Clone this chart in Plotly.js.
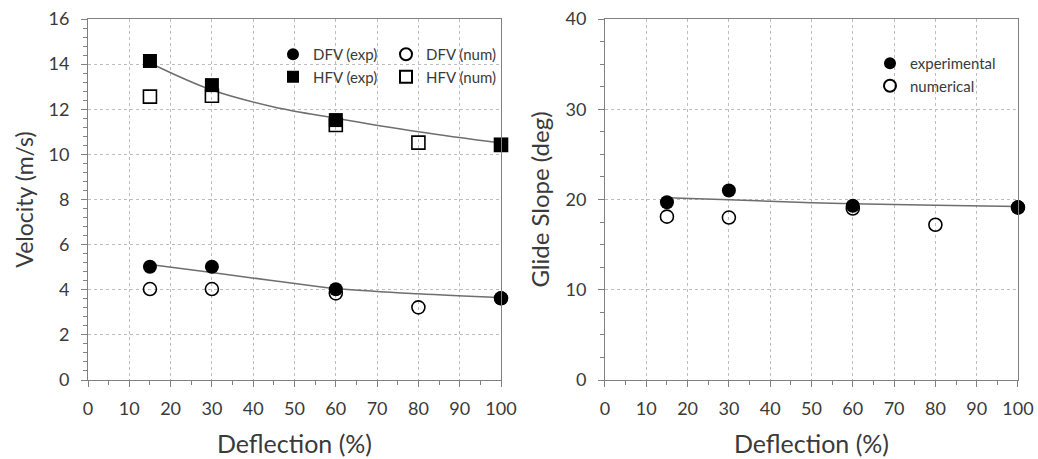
<!DOCTYPE html>
<html>
<head>
<meta charset="utf-8">
<script src="https://cdn.plot.ly/plotly-3.0.1.min.js"></script>
<style>html,body{margin:0;padding:0;background:#fff;}#chart{width:1038px;height:459px;}</style>
</head>
<body>
<div id="chart"></div>
<script>
// ---- data ----
const deflection = [15, 30, 60, 80, 100];
const deflectionExp = [15, 30, 60, 100];

const dfvExp = [5.02, 5.02, 4.02, 3.62];
const dfvNum = [4.03, 4.03, 3.84, 3.22, 3.62];
const hfvExp = [14.14, 13.07, 11.52, 10.42];
const hfvNum = [12.56, 12.6, 11.3, 10.52, 10.42];

const trendX = [15, 30, 45, 60, 80, 100];
const dfvTrend = [5.12, 4.76, 4.4, 4.05, 3.82, 3.65];
const hfvTrend = [14.05, 12.85, 12.1, 11.6, 11.0, 10.5];

const glideExp = [19.7, 21.0, 19.3, 19.16];
const glideNum = [18.1, 18.0, 19.0, 17.2, 19.1];
const glideTrend = [20.2, 19.97, 19.72, 19.53, 19.37, 19.23];

const xTicks = [0, 10, 20, 30, 40, 50, 60, 70, 80, 90, 100];

// ---- styling ----
const FONT = 'Lato, "Open Sans", sans-serif';
const TXT = '#3a3a3a';
const AX = '#808080';
const trendLine = {color: '#6e6e6e', width: 1.5, shape: 'spline'};

const traces = [
  {x: trendX, y: dfvTrend, mode: 'lines', line: trendLine, showlegend: false, hoverinfo: 'skip', xaxis: 'x', yaxis: 'y'},
  {x: trendX, y: hfvTrend, mode: 'lines', line: trendLine, showlegend: false, hoverinfo: 'skip', xaxis: 'x', yaxis: 'y'},
  {x: deflection, y: dfvNum, name: 'DFV (num)', mode: 'markers', legend: 'legend2',
   marker: {symbol: 'circle-open', size: 13, color: '#000', line: {width: 1.6, color: '#000'}}, cliponaxis: false, xaxis: 'x', yaxis: 'y'},
  {x: deflection, y: hfvNum, name: 'HFV (num)', mode: 'markers', legend: 'legend2',
   marker: {symbol: 'square-open', size: 13, color: '#000', line: {width: 1.6, color: '#000'}}, cliponaxis: false, xaxis: 'x', yaxis: 'y'},
  {x: deflectionExp, y: dfvExp, name: 'DFV (exp)', mode: 'markers', legend: 'legend',
   marker: {symbol: 'circle', size: 14, color: '#000'}, cliponaxis: false, xaxis: 'x', yaxis: 'y'},
  {x: deflectionExp, y: hfvExp, name: 'HFV (exp)', mode: 'markers', legend: 'legend',
   marker: {symbol: 'square', size: 14, color: '#000'}, cliponaxis: false, xaxis: 'x', yaxis: 'y'},

  {x: trendX, y: glideTrend, mode: 'lines', line: trendLine, showlegend: false, hoverinfo: 'skip', xaxis: 'x2', yaxis: 'y2'},
  {x: deflection, y: glideNum, name: 'numerical', mode: 'markers', legend: 'legend3', legendrank: 2,
   marker: {symbol: 'circle-open', size: 13, color: '#000', line: {width: 1.6, color: '#000'}}, cliponaxis: false, xaxis: 'x2', yaxis: 'y2'},
  {x: deflectionExp, y: glideExp, name: 'experimental', mode: 'markers', legend: 'legend3', legendrank: 1,
   marker: {symbol: 'circle', size: 14, color: '#000'}, cliponaxis: false, xaxis: 'x2', yaxis: 'y2'}
];

function axis(extra) {
  return Object.assign({
    showline: true, linecolor: AX, linewidth: 1, mirror: true,
    ticks: 'outside', ticklen: 6, tickcolor: AX, tickwidth: 1,
    showgrid: true, gridcolor: '#bdbdbd', griddash: 'dot', gridwidth: 1,
    zeroline: false, fixedrange: true,
    tickfont: {family: FONT, size: 18, color: TXT}
  }, extra);
}

function xAxisCommon() {
  return {
    range: [0, 100], tickmode: 'array', tickvals: xTicks, ticktext: xTicks.map(String),
    minor: {dtick: 5, ticks: 'outside', ticklen: 4, tickcolor: AX, showgrid: false},
    ticklabelstandoff: 6,
    title: {text: 'Deflection (%)', font: {family: FONT, size: 25, color: TXT}, standoff: 17}
  };
}

const legendCommon = {
  xref: 'paper', yref: 'paper', xanchor: 'left', yanchor: 'top',
  bgcolor: 'rgba(0,0,0,0)', borderwidth: 0, itemsizing: 'constant',
  font: {family: FONT, size: 15, color: TXT}, orientation: 'v'
};

const layout = {
  width: 1038, height: 459,
  margin: {l: 88, r: 20, t: 19, b: 79},
  paper_bgcolor: '#fff', plot_bgcolor: '#fff',
  font: {family: FONT, color: TXT},
  showlegend: true,
  xaxis: axis(Object.assign({domain: [0, 0.4441], anchor: 'y'}, xAxisCommon())),
  yaxis: axis({domain: [0, 1], anchor: 'x', range: [0, 16], dtick: 2,
    minor: {dtick: 0.4, ticks: 'outside', ticklen: 4, tickcolor: AX, showgrid: false},
    ticklabelstandoff: 8,
    title: {text: 'Velocity (m/s)', font: {family: FONT, size: 23, color: TXT}, standoff: 8}}),
  xaxis2: axis(Object.assign({domain: [0.5559, 1], anchor: 'y2'}, xAxisCommon())),
  yaxis2: axis({domain: [0, 1], anchor: 'x2', range: [0, 40], dtick: 10,
    minor: {dtick: 2.5, ticks: 'outside', ticklen: 4, tickcolor: AX, showgrid: false},
    ticklabelstandoff: 8,
    title: {text: 'Glide Slope (deg)', font: {family: FONT, size: 24, color: TXT}, standoff: 9}}),
  legend: Object.assign({}, legendCommon, {x: (273 - 88) / 930, y: (380 - 38) / 361}),
  legend2: Object.assign({}, legendCommon, {x: (386 - 88) / 930, y: (380 - 38) / 361}),
  legend3: Object.assign({}, legendCommon, {x: (870 - 88) / 930, y: (380 - 47) / 361})
};

Plotly.newPlot('chart', traces, layout, {displayModeBar: false, staticPlot: true});
</script>
</body>
</html>
